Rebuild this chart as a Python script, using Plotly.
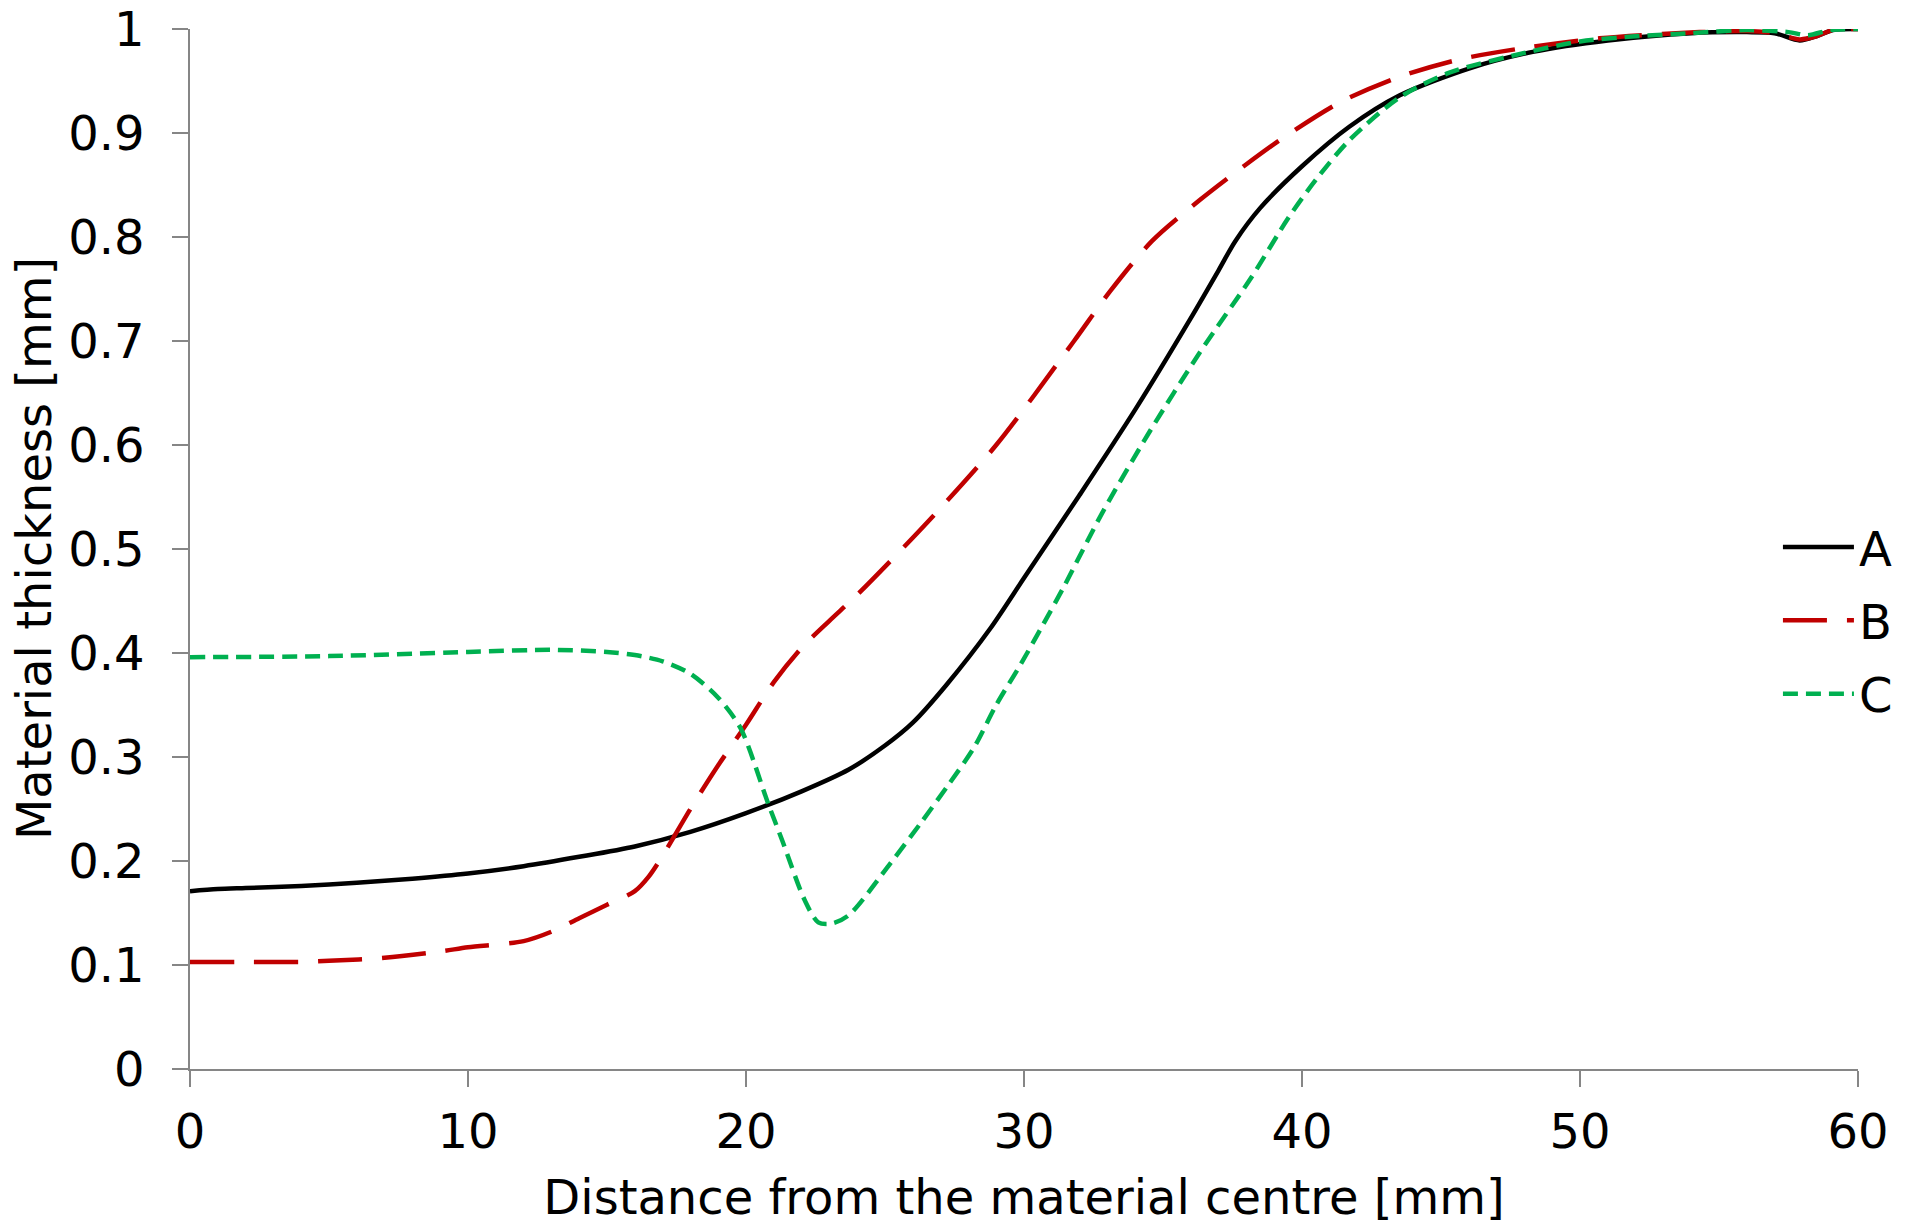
import plotly.graph_objects as go

# ---- data ----
x_a = [0, 1, 2, 4, 6, 8, 10, 12, 14, 16, 18, 20, 22, 23.7, 25, 26, 27.2, 28.8, 30, 32, 34, 36, 37, 37.6, 38.5, 40, 41.7, 43.5, 46, 48.3, 51, 54, 56, 57, 57.9, 58.5, 59.1, 60]
y_a = [0.171, 0.173, 0.174, 0.176, 0.179, 0.183, 0.188, 0.195, 0.204, 0.214, 0.228, 0.246, 0.267, 0.288, 0.311, 0.333, 0.369, 0.424, 0.472, 0.552, 0.634, 0.722, 0.768, 0.796, 0.828, 0.868, 0.906, 0.936, 0.962, 0.978, 0.989, 0.996, 0.997, 0.996, 0.989, 0.993, 0.999, 1.0]

x_b = [0, 2, 4, 5, 7, 9, 10, 12, 13, 14, 15, 16, 16.5, 17, 18, 19, 20, 21, 22, 23, 24, 26.5, 29, 31.8, 33.1, 34.6, 36.3, 38, 39.3, 41.4, 43.5, 45.7, 47.8, 50.7, 54.3, 56, 57, 57.9, 58.5, 59.1, 60]
y_b = [0.103, 0.103, 0.103, 0.104, 0.107, 0.113, 0.117, 0.123, 0.132, 0.145, 0.158, 0.171, 0.185, 0.205, 0.250, 0.292, 0.331, 0.372, 0.405, 0.431, 0.456, 0.525, 0.600, 0.700, 0.748, 0.796, 0.835, 0.870, 0.895, 0.930, 0.954, 0.971, 0.981, 0.991, 0.997, 0.998, 0.996, 0.990, 0.993, 0.999, 1.0]

x_c = [0, 5, 10, 13, 15, 16, 17, 18, 19, 19.8, 20.8, 21.3, 22.1, 22.6, 23.1, 23.7, 25.2, 26.3, 27.3, 28.2, 29.0, 29.9, 30.7, 31.4, 32.8, 34.5, 36.3, 38.2, 39.5, 40.5, 41.7, 43.5, 45.3, 48, 50, 52, 54, 56, 57.5, 58.2, 59, 60]
y_c = [0.396, 0.397, 0.401, 0.403, 0.401, 0.398, 0.392, 0.380, 0.357, 0.328, 0.255, 0.220, 0.163, 0.141, 0.140, 0.148, 0.198, 0.237, 0.274, 0.309, 0.350, 0.390, 0.428, 0.462, 0.534, 0.612, 0.688, 0.762, 0.818, 0.855, 0.893, 0.934, 0.958, 0.977, 0.988, 0.993, 0.996, 0.999, 0.997, 0.994, 0.999, 1.0]

series_names = ["A", "B", "C"]
x_ticks = [0, 10, 20, 30, 40, 50, 60]
y_ticks = [0, 0.1, 0.2, 0.3, 0.4, 0.5, 0.6, 0.7, 0.8, 0.9, 1]
x_title = "Distance from the material centre [mm]"
y_title = "Material thickness [mm]"

FONT = "DejaVu Sans"
AXIS_COLOR = "#868686"

fig = go.Figure()
fig.add_trace(go.Scatter(x=x_a, y=y_a, name=series_names[0], mode="lines", legendgroup="a",
                         line=dict(color="#000000", width=4.5, shape="spline", smoothing=0.8)))
fig.add_trace(go.Scatter(x=x_b, y=y_b, name=series_names[1], mode="lines", legendgroup="b",
                         line=dict(color="#C00000", width=4.5, dash="44px,20px", shape="spline", smoothing=0.8)))
fig.add_trace(go.Scatter(x=x_c, y=y_c, name=series_names[2], mode="lines", legendgroup="c",
                         line=dict(color="#00B050", width=4.5, dash="15px,8px", shape="spline", smoothing=0.8)))

fig.update_layout(
    width=1909, height=1232,
    margin=dict(l=190, r=51, t=29, b=163, autoexpand=False),
    paper_bgcolor="white", plot_bgcolor="white",
    font=dict(family=FONT, size=48, color="black"),
    legend=dict(x=0.952, xanchor="left", y=0.431, yanchor="middle",
                font=dict(family=FONT, size=48), tracegroupgap=8, itemwidth=71,
                bgcolor="rgba(0,0,0,0)", borderwidth=0),
    xaxis=dict(range=[0, 60], tickvals=x_ticks, showgrid=False, zeroline=False,
               showline=True, linecolor=AXIS_COLOR, linewidth=1.5, automargin=False,
               ticks="outside", ticklen=16, tickcolor=AXIS_COLOR, tickwidth=1.5,
               tickfont=dict(family=FONT, size=48), ticklabelstandoff=4,
               ticklabeloverflow="allow",
               title=dict(text=x_title, font=dict(family=FONT, size=48), standoff=22)),
    yaxis=dict(range=[0, 1], tickvals=y_ticks, showgrid=False, zeroline=False,
               showline=True, linecolor=AXIS_COLOR, linewidth=1.5, automargin=False,
               ticks="outside", ticklen=16, tickcolor=AXIS_COLOR, tickwidth=1.5,
               tickfont=dict(family=FONT, size=48), ticklabelstandoff=18,
               ticklabeloverflow="allow"),
    annotations=[dict(text=y_title, textangle=-90, xref="paper", yref="paper",
                      x=-0.0935, y=0.5, xanchor="center", yanchor="middle",
                      showarrow=False, font=dict(family=FONT, size=48, color="black"))],
)

fig.write_html("out.html", config={"displayModeBar": False},
               post_script="document.body.style.margin='0';document.body.style.overflow='hidden';")
